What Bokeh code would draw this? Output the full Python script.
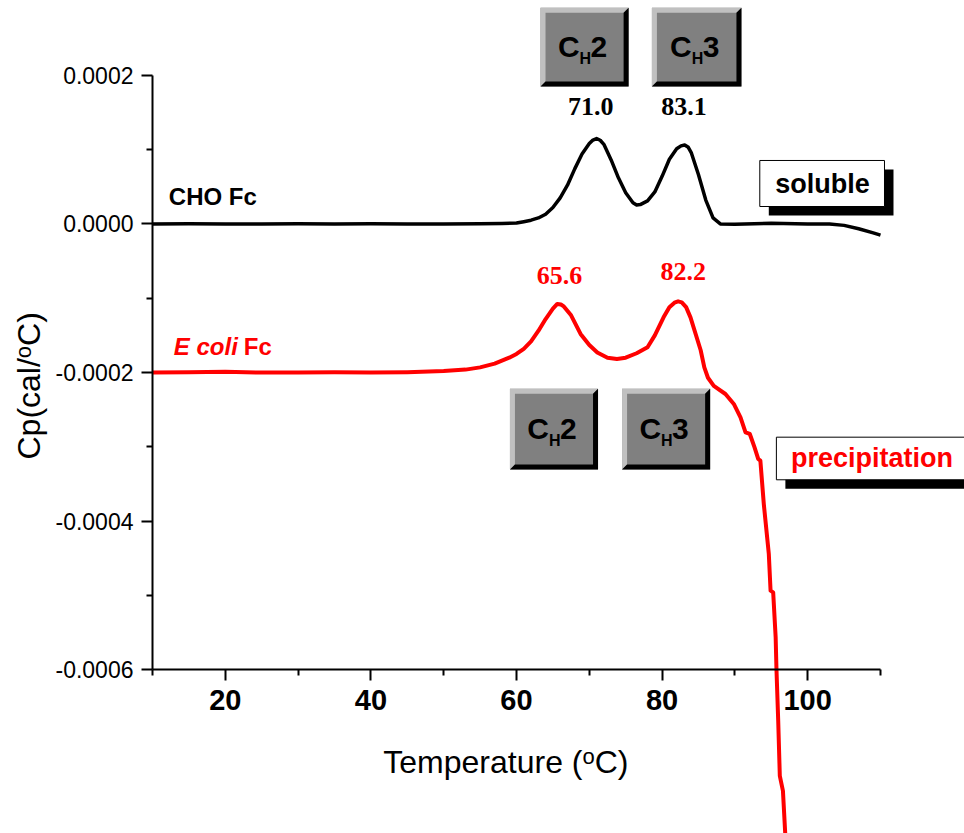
import numpy as np
from bokeh.plotting import figure
from bokeh.models import Range1d, LinearAxis, FixedTicker, PrintfTickFormatter
from bokeh.core.properties import value
from bokeh.embed import file_html
from bokeh.resources import INLINE

# DSC thermograms, Cp in units of 1e-4 cal/°C
cho_temp = [10, 15, 20, 25, 30, 35, 40, 45, 50, 55,
            58, 60, 61, 62, 63, 64, 65, 66, 67, 68,
            69, 70, 70.5, 71.0, 71.5, 72, 73, 74, 75, 76,
            76.5, 77, 78, 79, 80, 81, 82, 82.6, 83.1, 83.6,
            84, 85, 86, 87, 88, 90, 95, 100, 103, 105,
            107, 109, 110]
cho_cp_e4 = [0.0, 0.003, 0.0, -0.002, 0.002, 0.0, 0.002, -0.001, 0.0, 0.002,
             0.006, 0.012, 0.03, 0.05, 0.08, 0.13, 0.22, 0.35, 0.52, 0.74,
             0.94, 1.08, 1.128, 1.148, 1.125, 1.07, 0.86, 0.62, 0.42, 0.285,
             0.255, 0.26, 0.31, 0.43, 0.64, 0.87, 1.01, 1.05, 1.062, 1.03,
             0.96, 0.66, 0.32, 0.08, 0.0, -0.005, 0.01, 0.0, 0.0, -0.02,
             -0.065, -0.12, -0.15]

ecoli_temp = [10, 15, 20, 25, 30, 35, 40, 45, 50, 53,
              55, 57, 59, 60, 61, 62, 63, 64, 65, 65.6,
              66.1, 66.5, 67.5, 68.8, 70, 71.1, 72.5, 73.8, 75, 76.5,
              78, 79, 80.2, 81, 81.7, 82.2, 82.7, 83.3, 83.9, 85.3,
              85.8, 86.3, 87.1, 88.7, 89.85, 90.77, 91.46, 92.05, 92.7, 93.2,
              93.5, 93.97, 94.66, 94.9, 95.26, 95.6, 95.71, 95.95, 96.17, 96.6,
              96.97]
ecoli_cp_e4 = [-2.0, -1.995, -1.99, -2.0, -2.0, -1.995, -2.0, -1.995, -1.98, -1.96,
               -1.93, -1.88, -1.80, -1.75, -1.68, -1.58, -1.44, -1.28, -1.14, -1.077,
               -1.085, -1.11, -1.23, -1.48, -1.63, -1.73, -1.80, -1.817, -1.80, -1.74,
               -1.66, -1.50, -1.257, -1.12, -1.06, -1.042, -1.055, -1.12, -1.257, -1.70,
               -1.93, -2.07, -2.18, -2.288, -2.422, -2.602, -2.804, -2.826, -3.006, -3.162,
               -3.185, -3.768, -4.441, -4.934, -4.957, -5.563, -5.988, -6.684, -7.424, -7.626,
               -8.30]

cho_peaks = [71.0, 83.1]
ecoli_peaks = [65.6, 82.2]

x_ticks = [20, 40, 60, 80, 100]
x_minor = [10, 30, 50, 70, 90, 110]
y_ticks = [0.0002, 0.0, -0.0002, -0.0004, -0.0006]
y_minor = [0.0001, -0.0001, -0.0003, -0.0005]

cho_cp = [v * 1e-4 for v in cho_cp_e4]
ecoli_cp = [v * 1e-4 for v in ecoli_cp_e4]

W, H = 964, 833
XR = (-10.88, 121.54)
YR = (-0.00082, 0.0003005)
DX = (XR[1] - XR[0]) / W   # data units per pixel
DY = (YR[1] - YR[0]) / H

SANS = value("Liberation Sans")
SERIF = value("Liberation Serif")

p = figure(width=W, height=H, x_range=Range1d(*XR), y_range=Range1d(*YR),
           x_axis_type=None, y_axis_type=None, toolbar_location=None,
           output_backend="svg", min_border=0, outline_line_color=None,
           title=None, background_fill_color="white", border_fill_color="white")

# axes drawn at fixed data positions so the curve can run past them
xa = LinearAxis(fixed_location=-0.0006, bounds=(10, 110),
                ticker=FixedTicker(ticks=x_ticks, minor_ticks=x_minor))
ya = LinearAxis(fixed_location=10, bounds=(-0.0006, 0.0002),
                ticker=FixedTicker(ticks=y_ticks, minor_ticks=y_minor),
                formatter=PrintfTickFormatter(format="%.4f"))
for ax in (xa, ya):
    ax.axis_line_width = 2
    ax.axis_line_color = "black"
    ax.major_tick_line_width = 2
    ax.minor_tick_line_width = 2
    ax.major_tick_in = 0
    ax.major_tick_out = 11
    ax.minor_tick_in = 0
    ax.minor_tick_out = 6
    ax.major_label_text_font = "Liberation Sans"
    ax.major_label_text_color = "black"
xa.major_label_text_font_size = "29px"
xa.major_label_text_font_style = "bold"
xa.major_label_standoff = 9
ya.major_label_text_font_size = "23px"
ya.major_label_standoff = 8
p.add_layout(xa, "below")
p.add_layout(ya, "left")

# curves
p.line(cho_temp, cho_cp, line_color="black", line_width=3.5, line_join="round")
p.line(ecoli_temp, ecoli_cp, line_color="#ff0000", line_width=4, line_join="round")


def txt(x, y, s, size, color="black", style="bold", align="left", font=SANS,
        angle=0.0, x_offset=0):
    """Place text by its baseline point (x, y); size in px."""
    shift = 0.35 * size
    if angle:
        x = x - shift * DX
    else:
        y = y + shift * DY
    p.text(x=[x], y=[y], text=[s], text_font=font, text_font_size=f"{size}px",
           text_font_style=style, text_color=color, text_align=align,
           text_baseline="middle", angle=angle, x_offset=x_offset)


def button(x0, x1, y0, y1, digit):
    bx, by = 5 * DX, 5 * DY
    p.quad(left=x0, right=x1, bottom=y0, top=y1, fill_color="#808080", line_color=None)
    light_x = [x0, x1, x1 - bx, x0 + bx, x0 + bx, x0]
    light_y = [y1, y1, y1 - by, y1 - by, y0 + by, y0]
    dark_x = [x1, x1, x0, x0 + bx, x1 - bx, x1 - bx]
    dark_y = [y1, y0, y0, y0 + by, y0 + by, y1 - by]
    p.patches(xs=[light_x, dark_x], ys=[light_y, dark_y],
              fill_color=["#c0c0c0", "#000000"], line_color=None)
    cx, cy = (x0 + x1) / 2, (y0 + y1) / 2
    txt(cx, cy - 10 * DY, "C", 30, align="right", x_offset=-5)
    txt(cx, cy - 16.5 * DY, "H", 16, x_offset=-5)
    txt(cx, cy - 10 * DY, digit, 30, x_offset=6)


def note_box(x0, x1, y0, y1, label, color, tx, align):
    sx, sy = 9 * DX, 9 * DY
    p.quad(left=x0 + sx, right=x1 + sx, bottom=y0 - sy, top=y1 - sy,
           fill_color="black", line_color=None)
    p.quad(left=x0, right=x1, bottom=y0, top=y1, fill_color="white",
           line_color="black", line_width=1)
    txt(tx, y0 + (y1 - y0) * 0.29, label, 27, color=color, align=align)


# domain buttons
button(63.3, 75.4, 0.0001848, 0.0002907, "2")
button(78.6, 90.9, 0.0001848, 0.0002907, "3")
button(59.1, 71.2, -0.0003304, -0.0002218, "2")
button(74.5, 86.6, -0.0003304, -0.0002218, "3")

# peak temperatures
txt(cho_peaks[0] - 0.8, 0.0001458, f"{cho_peaks[0]:.1f}", 26, align="center", font=SERIF)
txt(cho_peaks[1] - 0.1, 0.0001458, f"{cho_peaks[1]:.1f}", 26, align="center", font=SERIF)
txt(ecoli_peaks[0] + 0.3, -0.0000819, f"{ecoli_peaks[0]:.1f}", 26, color="#ff0000",
    align="center", font=SERIF)
txt(ecoli_peaks[1] + 0.7, -0.0000761, f"{ecoli_peaks[1]:.1f}", 26, color="#ff0000",
    align="center", font=SERIF)

# series names
txt(12.24, 0.0000257, "CHO Fc", 24)
txt(12.93, -0.0001757, "E coli", 24, color="#ff0000", style="bold italic")
txt(22.54, -0.0001757, "Fc", 24, color="#ff0000")

# state boxes
note_box(93.42, 110.55, 0.0000234, 0.0000853, "soluble", "black", 102.03, "center")
note_box(95.7, 123.7, -0.0003442, -0.0002869, "precipitation", "#ff0000", 97.7, "left")

# axis titles with superscript degree mark
ty = YR[1] - 773 * DY
tx = XR[0] + 582 * DX
txt(tx, ty, "Temperature (", 32, style="normal", align="right")
txt(tx, ty + 9 * DY, "o", 22, style="normal")
txt(tx + 0.556 * 22 * DX, ty, "C)", 32, style="normal")

lx = XR[0] + 40 * DX
ly = YR[1] - 459 * DY
rot = np.pi / 2
txt(lx, ly, "Cp(cal/", 32, style="normal", angle=rot)
ly2 = ly + 3.167 * 32 * DY
txt(lx - 9 * DX, ly2, "o", 22, style="normal", angle=rot)
txt(lx, ly2 + 0.556 * 22 * DY, "C)", 32, style="normal", angle=rot)

open("out.html", "w").write(file_html(p, INLINE))
